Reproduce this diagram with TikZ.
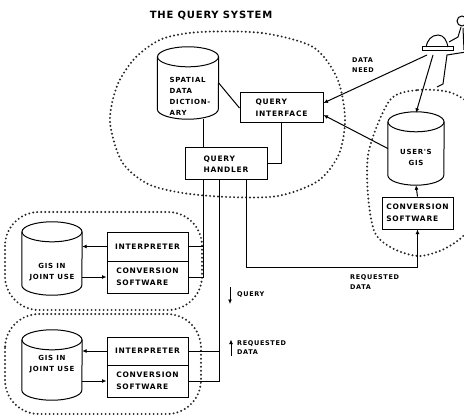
\documentclass[tikz,border=0pt]{standalone}
\usepackage{fontspec}
\newfontfamily\lblfont{DejaVu Sans}[LetterSpace=10]
\newfontfamily\ttlfont{DejaVu Sans}[LetterSpace=8]
\usetikzlibrary{arrows.meta}

% drum-shaped store: name, centre, width, height
\newcommand\drum[4]{%
  \node[inner sep=0pt, minimum width=#3, minimum height=#4] (#1) at (#2) {};
  \draw[conn] ([yshift=-10pt]#1.north west) -- ([yshift=10pt]#1.south west)
    arc[start angle=180, end angle=360, x radius={#3*0.5pt}, y radius=10pt]
    -- ([yshift=-10pt]#1.north east);
  \draw[conn] ([yshift=-10pt]#1.north) ellipse[x radius={#3*0.5pt}, y radius=10pt];
}

\begin{document}
\begin{tikzpicture}[x=1pt,y=-1pt,
    conn/.style={line width=1pt},
    arr/.style={conn, -{Latex[length=4.5pt,width=4pt]}},
    box/.style={draw, line width=1pt, inner sep=0pt, align=left,
      font=\lblfont\bfseries\fontsize{7.5}{11.5}\selectfont},
    txt/.style={inner sep=0pt, font=\lblfont\bfseries\fontsize{7}{11}\selectfont},
    note/.style={inner sep=0pt, anchor=west, align=left,
      font=\lblfont\bfseries\fontsize{6.5}{9.5}\selectfont},
    region/.style={line width=2.2pt, line cap=round, dash pattern=on 0pt off 4pt, black!85}
  ]
  \clip (0,0) rectangle (464,420);

  \node[font=\ttlfont\bfseries\fontsize{10}{12}\selectfont] (title) at (211,16) {THE QUERY SYSTEM};

  % dotted groupings
  \draw[region] plot[smooth cycle] coordinates {(200,32) (262,33) (313,47) (337,78)
    (345,118) (339,154) (318,181) (278,196) (228,197) (183,193) (148,184) (122,162)
    (110,122) (117,86) (135,58) (162,39)};
  \draw[region] plot[smooth cycle] coordinates {(390,100) (418,90) (452,93) (474,112)
    (480,170) (470,226) (448,247) (420,256) (394,249) (375,233) (368,195) (369,150)};
  \draw[region, rounded corners=34] (5,212) rectangle (202,310);
  \draw[region, rounded corners=34] (5,314) rectangle (201,414);

  % query system
  \drum{dict}{188,83}{61}{72}
  \node[txt, align=left] (dicttxt) at (190,96) {SPATIAL\\DATA\\DICTION-\\ARY};
  \node[box, minimum width=83, minimum height=30] (qiface) at (281.5,108) {QUERY\\INTERFACE};
  \node[box, minimum width=82, minimum height=32] (qhandler) at (226,164) {QUERY\\HANDLER};

  \coordinate (bus1) at ([xshift=-23pt]qhandler.south);
  \coordinate (bus2) at ([xshift=-7pt]qhandler.south);
  \coordinate (bus3) at ([xshift=20pt]qhandler.south);

  \draw[conn] (dict.south -| bus1) -- (qhandler.north -| bus1);
  \draw[conn] (dict.east) -- (qiface.west);
  \draw[conn] (qiface.south) |- (qhandler.east);

  % user and terminal
  \draw[conn, fill=white] (422,47) rectangle (453,51);
  \draw[conn] (426,47) to[out=80,in=180] (438,35) to[out=0,in=100] (448,47);
  \draw[conn] (462,21) circle (5);
  \draw[conn] (461,27) -- (458,37) -- (449,42);
  \draw[conn] (463,28) -- (464,50);
  \draw[conn] (466,52) -- (447,55) -- (443,84) -- (437,87);
  \coordinate (term1) at (427,55);
  \coordinate (term2) at (433,55);

  \drum{usergis}{416,148.5}{56}{73}
  \node[txt, align=center] (usertxt) at (416,157) {USER'S\\GIS};
  \node[box, minimum width=71, minimum height=32] (uconv) at (417.5,213) {CONVERSION\\SOFTWARE};

  \draw[arr] (term1) -- ([yshift=5pt]qiface.east);
  \node[note] (need) at (352,65) {DATA\\NEED};
  \draw[arr] (term2) -- ([yshift=-1pt]usergis.north);
  \draw[arr] (usergis.west) -- ([yshift=-7pt]qiface.east);
  \draw[arr] (uconv.north) -- (usergis.south);
  \draw[arr] (bus3) -- ++(0,87) -| (uconv.south);
  \node[note] (reqd1) at (350,282) {REQUESTED\\DATA};

  % systems in joint use
  \drum{gis1}{52,258.5}{60}{73}
  \node[txt, align=center] (gis1txt) at (52,272.5) {GIS IN\\JOINT USE};
  \node[box, minimum width=81, minimum height=29] (interp1) at (147.5,246.5) {INTERPRETER};
  \node[box, minimum width=81, minimum height=32] (conv1) at (147.5,277) {CONVERSION\\SOFTWARE};

  \drum{gis2}{52,365}{60}{70}
  \node[txt, align=center] (gis2txt) at (52,364) {GIS IN\\JOINT USE};
  \node[box, minimum width=81, minimum height=28] (interp2) at (147.5,351) {INTERPRETER};
  \node[box, minimum width=81, minimum height=32] (conv2) at (147.5,381) {CONVERSION\\SOFTWARE};

  \draw[arr] (interp1.west) -- (interp1.west -| gis1.east);
  \draw[arr] (conv1.west -| gis1.east) -- (conv1.west);
  \draw[arr] (interp2.west) -- (interp2.west -| gis2.east);
  \draw[arr] (conv2.west -| gis2.east) -- (conv2.west);

  \draw[conn] (bus1) |- (conv1.east);
  \draw[conn] (interp1.east) -- (interp1.east -| bus1);
  \draw[conn] (bus2) |- (conv2.east);
  \draw[conn] (interp2.east) -- (interp2.east -| bus2);

  \node[note] (qlbl) at (237,295) {QUERY};
  \draw[arr] ([xshift=-7pt,yshift=8pt]qlbl.west) -- ([xshift=-7pt,yshift=-9pt]qlbl.west);
  \node[note] (reqd2) at (237,347.5) {REQUESTED\\DATA};
  \draw[arr] ([xshift=-6pt,yshift=-8pt]reqd2.west) -- ([xshift=-6pt,yshift=8pt]reqd2.west);
\end{tikzpicture}
\end{document}
